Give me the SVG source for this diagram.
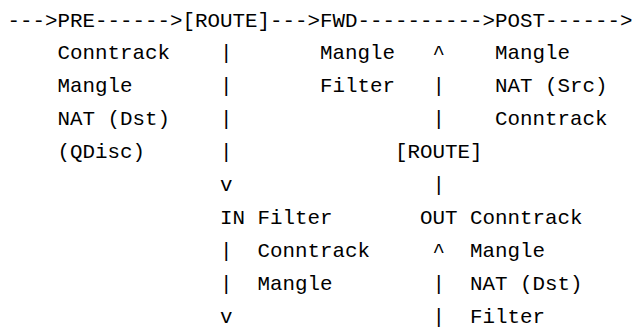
<svg xmlns="http://www.w3.org/2000/svg" width="632" height="329" viewBox="0 0 632 329">
<style>
text{font-family:"Liberation Mono","DejaVu Sans Mono",monospace;font-size:20.83px;fill:#000;white-space:pre}
</style>
<rect x="0" y="0" width="632" height="329" fill="#fff"/>
<g id="connectors">
<text x="7.5" y="26.5">---&gt;</text>
<text x="95" y="26.5">------&gt;</text>
<text x="270" y="26.5">---&gt;</text>
<text x="357.5" y="26.5">----------&gt;</text>
<text x="545" y="26.5">------&gt;</text>
<text x="220" y="59.4">|</text>
<text x="220" y="92.3">|</text>
<text x="220" y="125.2">|</text>
<text x="220" y="158.1">|</text>
<text x="220" y="191">v</text>
<text x="220" y="256.8">|</text>
<text x="220" y="289.7">|</text>
<text x="220" y="322.6">v</text>
<text x="432.5" y="59.4">^</text>
<text x="432.5" y="92.3">|</text>
<text x="432.5" y="125.2">|</text>
<text x="432.5" y="191">|</text>
<text x="432.5" y="256.8">^</text>
<text x="432.5" y="289.7">|</text>
<text x="432.5" y="322.6">|</text>
</g>
<g id="pre">
<text x="57.5" y="26.5">PRE</text>
<text x="57.5" y="59.4">Conntrack</text>
<text x="57.5" y="92.3">Mangle</text>
<text x="57.5" y="125.2">NAT (Dst)</text>
<text x="57.5" y="158.1">(QDisc)</text>
</g>
<g id="route1">
<text x="182.5" y="26.5">[ROUTE]</text>
</g>
<g id="fwd">
<text x="320" y="26.5">FWD</text>
<text x="320" y="59.4">Mangle</text>
<text x="320" y="92.3">Filter</text>
</g>
<g id="post">
<text x="495" y="26.5">POST</text>
<text x="495" y="59.4">Mangle</text>
<text x="495" y="92.3">NAT (Src)</text>
<text x="495" y="125.2">Conntrack</text>
</g>
<g id="route2">
<text x="395" y="158.1">[ROUTE]</text>
</g>
<g id="in">
<text x="220" y="223.9">IN</text>
<text x="257.5" y="223.9">Filter</text>
<text x="257.5" y="256.8">Conntrack</text>
<text x="257.5" y="289.7">Mangle</text>
</g>
<g id="out">
<text x="420" y="223.9">OUT</text>
<text x="470" y="223.9">Conntrack</text>
<text x="470" y="256.8">Mangle</text>
<text x="470" y="289.7">NAT (Dst)</text>
<text x="470" y="322.6">Filter</text>
</g>
</svg>
